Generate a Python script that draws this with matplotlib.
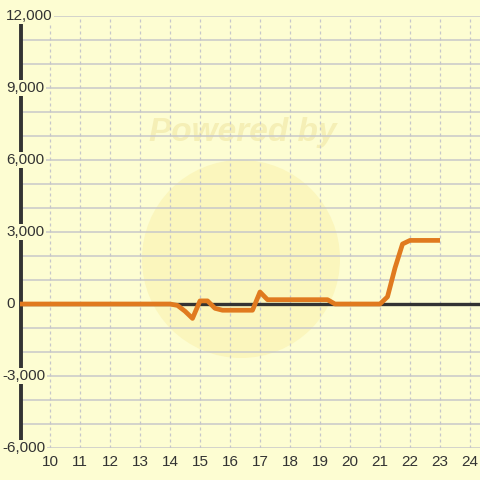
import matplotlib
matplotlib.use("Agg")
import matplotlib.pyplot as plt
import matplotlib.transforms as mtransforms
from matplotlib.patches import Circle

# ---- data ----
hours = [9, 14, 14.25, 14.5, 14.75, 15, 15.25, 15.5, 15.75, 16, 16.25, 16.5, 16.75,
         17, 17.25, 17.5, 18, 18.5, 19, 19.25, 19.5, 20, 20.5, 21, 21.25, 21.5,
         21.75, 22, 22.5, 23]
values = [0, 0, -60, -300, -600, 130, 130, -180, -260, -260, -260, -260, -260,
          500, 180, 180, 180, 180, 180, 180, 0, 0, 0, 0, 300, 1500,
          2500, 2650, 2650, 2650]
x_ticks = list(range(10, 25))
y_ticks = [-6000, -3000, 0, 3000, 6000, 9000, 12000]
y_labels = ["-6,000", "-3,000", "0", "3,000", "6,000", "9,000", "12,000"]

BG = "#fdfdd2"
TXT = "#333333"
ORANGE = "#e07a1f"
FONT = "Liberation Sans"

fig = plt.figure(figsize=(4.8, 4.8), dpi=100, facecolor=BG)
ax = fig.add_axes([20 / 480, 32 / 480, 460 / 480, 432 / 480])
ax.set_facecolor(BG)
ax.set_xlim(9, 9 + 460 / 30)
ax.set_ylim(-6000, 12000)
for s in ax.spines.values():
    s.set_visible(False)
ax.set_xticks([])
ax.set_yticks([])

# watermark
circ = Circle((241 / 480, 1 - 259 / 480), 99 / 480, transform=fig.transFigure,
              facecolor="#fbf6bd", edgecolor="none", zorder=0.5)
ax.add_patch(circ)
ax.text(243 / 480, 1 - 133 / 480, "Powered by", fontsize=24, fontweight="bold",
        style="italic", color="#f5efb6", ha="center", va="center", family=FONT,
        transform=fig.transFigure, zorder=0.6)

# grid
for y in range(-6000, 12001, 1000):
    ax.axhline(y, color="#c8c8ca", lw=1.1, zorder=1)
for x in x_ticks:
    ax.axvline(x, color="#c6c6ca", lw=0.9, ls=(0, (2.4, 2.4)), zorder=1)

# axes lines
ax.axhline(0, color=TXT, lw=2.4, zorder=2)
ax.axvline(9 + 0.5 / 30, color=TXT, lw=2.8, zorder=2, clip_on=False)

# series
ax.plot(hours, values, color=ORANGE, lw=3.4, solid_joinstyle="round",
        solid_capstyle="butt", zorder=3)

# y labels
for v, lab in zip(y_ticks, y_labels):
    xpx = 2 if v < 0 else 6
    ax.text((xpx - 20) / 460, v, lab, transform=ax.get_yaxis_transform(),
            ha="left", va="center", fontsize=11, color=TXT, family=FONT,
            bbox=dict(facecolor=BG, edgecolor="none", pad=1.0), zorder=5,
            clip_on=False)

# x labels
xtrans = mtransforms.blended_transform_factory(ax.transData, fig.transFigure)
for x in x_ticks:
    ax.text(x, (1 - 462 / 480), str(x), transform=xtrans,
            ha="center", va="center", fontsize=11, color=TXT, family=FONT,
            clip_on=False)

fig.savefig("out.png", dpi=100, facecolor=BG)
